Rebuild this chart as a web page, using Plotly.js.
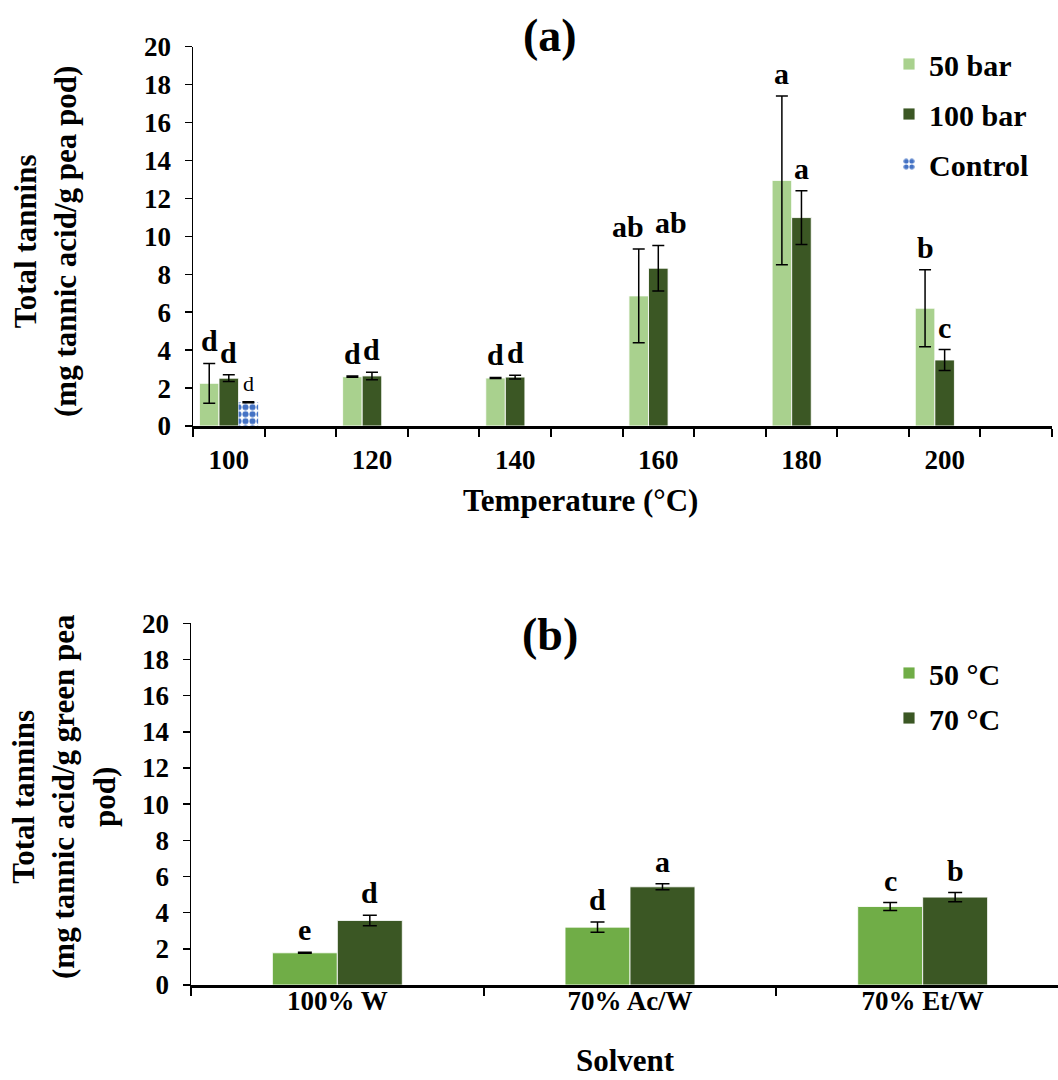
<!DOCTYPE html>
<html>
<head>
<meta charset="utf-8">
<script src="https://cdn.plot.ly/plotly-3.0.1.min.js"></script>
<style>
  html, body { margin: 0; padding: 0; background: #fff; overflow: hidden; }
  #chart { width: 1080px; height: 1080px; }
</style>
</head>
<body>
<div id="chart"></div>
<script>
// ---- Panel (a): extraction temperature / pressure ----
const temps = [100, 120, 140, 160, 180, 200];
const bar50 = [2.25, 2.60, 2.53, 6.86, 12.95, 6.21];
const bar50Err = [1.05, 0.03, 0.03, 2.47, 4.45, 2.03];
const bar50Letters = ['d', 'd', 'd', 'ab', 'a', 'b'];
const bar100 = [2.52, 2.64, 2.58, 8.32, 10.99, 3.48];
const bar100Err = [0.18, 0.20, 0.10, 1.20, 1.42, 0.55];
const bar100Letters = ['d', 'd', 'd', 'ab', 'a', 'c'];
const controlTemp = [100];
const control = [1.25];
const controlErr = [0.03];
const controlLetters = ['d'];

// ---- Panel (b): solvent / temperature ----
const solvents = ['100% W', '70% Ac/W', '70% Et/W'];
const c50 = [1.78, 3.20, 4.34];
const c50Err = [0.03, 0.28, 0.22];
const c50Letters = ['e', 'd', 'c'];
const c70 = [3.57, 5.43, 4.86];
const c70Err = [0.29, 0.17, 0.25];
const c70Letters = ['d', 'a', 'b'];

const FONT = 'Liberation Serif, Times New Roman, serif';
const W = 1080, H = 1080;
const px = v => v / W;
const py = v => 1 - v / H;

const GAP_A = 0.59, GAP_B = 0.556;

function errBar(arr, w) {
  return { type: 'data', array: arr, visible: true, color: '#000', thickness: 1.5, width: w };
}
const edge = { color: 'rgba(255,255,255,0.85)', width: 1 };

const traces = [
  { type: 'bar', name: '50 bar', x: temps, y: bar50, xaxis: 'x', yaxis: 'y',
    marker: { color: '#A9D18E', line: edge }, error_y: errBar(bar50Err, 6),
    legend: 'legend', legendgroup: 'a1', hoverinfo: 'skip' },
  { type: 'bar', name: '100 bar', x: temps, y: bar100, xaxis: 'x', yaxis: 'y',
    marker: { color: '#3B5724', line: edge }, error_y: errBar(bar100Err, 6),
    legend: 'legend', legendgroup: 'a2', hoverinfo: 'skip' },
  { type: 'bar', name: 'Control', x: controlTemp, y: control, xaxis: 'x', yaxis: 'y',
    marker: { color: '#ffffff', line: { color: 'rgba(0,0,0,0)', width: 0 },
      pattern: { shape: '.', fgcolor: '#4472C4', bgcolor: '#ffffff', fgopacity: 1,
                 size: 7, solidity: 0.6, fillmode: 'replace' } },
    error_y: errBar(controlErr, 6), legend: 'legend', legendgroup: 'a3', hoverinfo: 'skip' },
  { type: 'bar', name: '50 °C', x: solvents, y: c50, xaxis: 'x2', yaxis: 'y2',
    marker: { color: '#70AD47', line: edge }, error_y: errBar(c50Err, 7),
    legend: 'legend2', legendgroup: 'b1', hoverinfo: 'skip' },
  { type: 'bar', name: '70 °C', x: solvents, y: c70, xaxis: 'x2', yaxis: 'y2',
    marker: { color: '#3B5724', line: edge }, error_y: errBar(c70Err, 7),
    legend: 'legend2', legendgroup: 'b2', hoverinfo: 'skip' }
];

// Significance letters placed above each error bar, centred on its bar slot.
// Neighbouring two-letter labels are nudged apart so they do not collide.
const annotations = [];
function letters(xs, ys, errs, labels, slot, nSlots, step, gap, xref, yref, font, nudge) {
  const groupW = step * (1 - gap);
  const barW = groupW / nSlots;
  xs.forEach((x, i) => {
    const base = (typeof x === 'number') ? x : i;
    const xv = base - groupW / 2 + (slot + 0.5) * barW;
    const crowded = labels[i].length > 1;
    annotations.push({
      xref: xref, yref: yref, x: xv, y: ys[i] + errs[i], text: labels[i],
      showarrow: false, xanchor: 'center', yanchor: 'bottom', yshift: 4,
      xshift: crowded ? nudge : 0, font: font
    });
  });
}
const stepA = temps[1] - temps[0];
const letterFont = { family: FONT, size: 30, color: '#000', weight: 'bold' };
letters(temps, bar50, bar50Err, bar50Letters, 0, 3, stepA, GAP_A, 'x', 'y', letterFont, -11);
letters(temps, bar100, bar100Err, bar100Letters, 1, 3, stepA, GAP_A, 'x', 'y', letterFont, 13);
letters(controlTemp, control, controlErr, controlLetters, 2, 3, stepA, GAP_A, 'x', 'y',
        { family: FONT, size: 22, color: '#000', weight: 'normal' }, 0);
letters(solvents, c50, c50Err, c50Letters, 0, 2, 1, GAP_B, 'x2', 'y2', letterFont, 0);
letters(solvents, c70, c70Err, c70Letters, 1, 2, 1, GAP_B, 'x2', 'y2', letterFont, 0);

// Panel titles and axis titles
const titleFont = { family: FONT, size: 46, color: '#000', weight: 'bold' };
const axFont = { family: FONT, size: 31, color: '#000', weight: 'bold' };
function paperText(x, y, text, font, angle) {
  return { xref: 'paper', yref: 'paper', x: px(x), y: py(y), text: text, showarrow: false,
           xanchor: 'center', yanchor: 'middle', textangle: angle || 0, font: font };
}
annotations.push(
  paperText(550, 35, '(a)', titleFont),
  paperText(550, 635, '(b)', titleFont),
  paperText(580, 500, 'Temperature (°C)', axFont),
  paperText(625, 1060, 'Solvent', axFont),
  paperText(45, 242, 'Total tannins<br>(mg tannic acid/g pea pod)', axFont, -90),
  paperText(64, 797, 'Total tannins<br>(mg tannic acid/g green pea<br>pod)', axFont, -90)
);

const tickFont = { family: FONT, size: 27, color: '#000', weight: 'bold' };
const yCommon = {
  range: [0, 20], dtick: 2, tick0: 0, showgrid: false, zeroline: false,
  showline: true, linecolor: '#000', linewidth: 1.5,
  ticks: 'outside', ticklen: 7, tickwidth: 1.5, tickcolor: '#000',
  tickfont: tickFont, ticklabelstandoff: 8, fixedrange: true
};

const layout = {
  width: W, height: H,
  margin: { l: 0, r: 0, t: 0, b: 0 },
  paper_bgcolor: '#fff', plot_bgcolor: '#fff',
  font: { family: FONT, color: '#000' },
  barmode: 'group',
  bargap: GAP_A, bargroupgap: 0,
  showlegend: true,
  xaxis: {
    domain: [px(193), px(1052)], anchor: 'y', type: 'linear', range: [95, 215],
    tickmode: 'array', tickvals: temps, ticktext: temps.map(String), ticks: '',
    minor: { tickmode: 'linear', tick0: 95, dtick: 10, ticks: 'outside', ticklen: 8,
             tickwidth: 2, tickcolor: '#000', showgrid: false },
    showgrid: false, zeroline: false, showline: true, linecolor: '#000', linewidth: 2.5,
    tickfont: tickFont, ticklabelstandoff: 8, fixedrange: true
  },
  yaxis: Object.assign({ domain: [py(426), py(46.7)], anchor: 'x' }, yCommon),
  xaxis2: {
    domain: [px(191), px(1069)], anchor: 'y2', type: 'category',
    tickson: 'boundaries', ticks: 'outside', ticklen: 8, tickwidth: 2, tickcolor: '#000',
    showgrid: false, zeroline: false, showline: true, linecolor: '#000', linewidth: 2.5,
    tickfont: tickFont, ticklabelstandoff: -10, fixedrange: true
  },
  yaxis2: Object.assign({ domain: [py(985), py(623.3)], anchor: 'x2' }, yCommon),
  legend: {
    x: px(889), y: py(38), xanchor: 'left', yanchor: 'top',
    bgcolor: 'rgba(0,0,0,0)', borderwidth: 0, tracegroupgap: 8,
    font: { family: FONT, size: 30, color: '#000', weight: 'bold' }
  },
  legend2: {
    x: px(889), y: py(647), xanchor: 'left', yanchor: 'top',
    bgcolor: 'rgba(0,0,0,0)', borderwidth: 0, tracegroupgap: 3,
    font: { family: FONT, size: 30, color: '#000', weight: 'bold' }
  },
  annotations: annotations
};

// Panel (b) bars sit side by side within each solvent slot
const bWidth = (1 - GAP_B) / 2;
traces[3].width = bWidth; traces[3].offset = -bWidth;
traces[4].width = bWidth; traces[4].offset = 0;

Plotly.newPlot('chart', traces, layout, { displayModeBar: false, staticPlot: true });
</script>
</body>
</html>
